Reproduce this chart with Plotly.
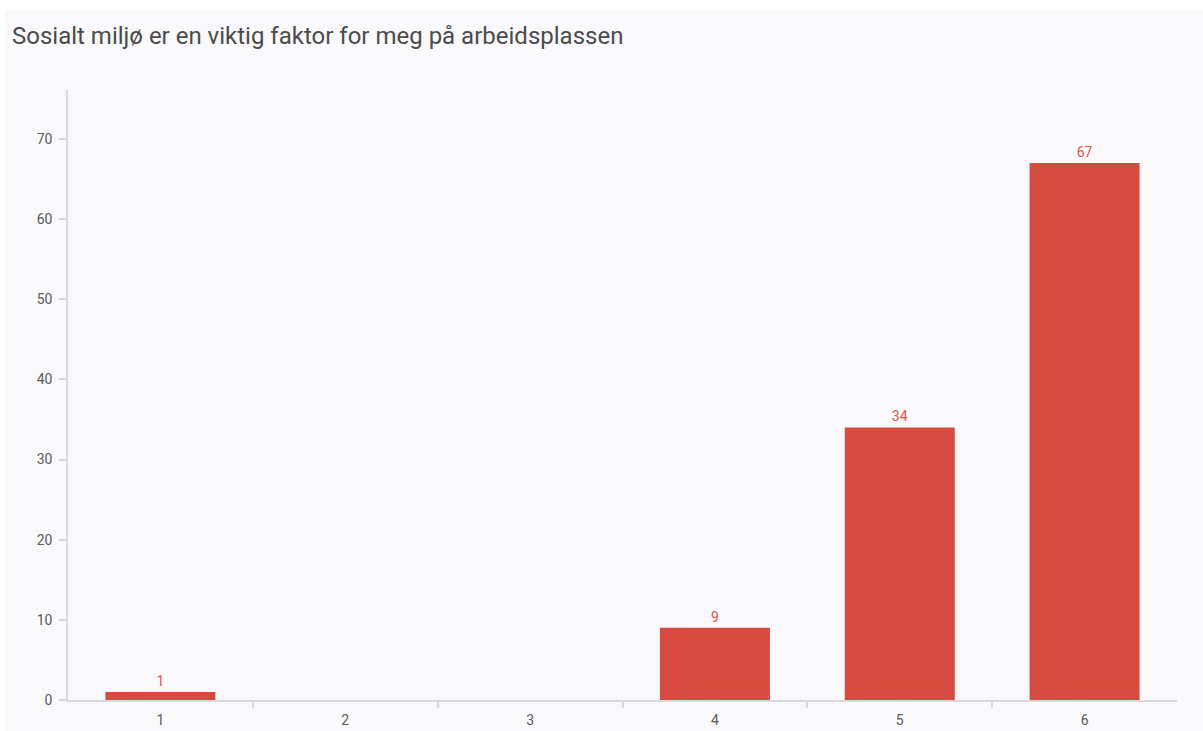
import plotly.graph_objects as go

# Survey answers on a 1–6 scale and how many respondents chose each
categories = ["1", "2", "3", "4", "5", "6"]
counts = [1, 0, 0, 9, 34, 67]
title_text = "Sosialt miljø er en viktig faktor for meg på arbeidsplassen"

W, H = 1203, 731
L, R, T, B = 68, 26, 90, 31
pw, ph = W - L - R, H - T - B

bar_color = "#d64a40"
label_color = "#e0534a"
axis_color = "#d9d9dd"
panel_color = "#f9f9fb"
tick_text_color = "#5a5a5a"

fig = go.Figure()
fig.add_trace(
    go.Bar(
        x=categories,
        y=counts,
        text=[str(c) if c > 0 else "" for c in counts],
        textposition="outside",
        textfont=dict(color=label_color, size=14, family="Roboto"),
        marker=dict(color=bar_color, line=dict(width=0)),
        cliponaxis=False,
        hoverinfo="x+y",
    )
)
# invisible helper trace so the boundary-tick axis gets drawn
fig.add_trace(
    go.Scatter(x=[0, 5], y=[0, 0], xaxis="x2", mode="markers",
               marker=dict(opacity=0), hoverinfo="skip", showlegend=False)
)

# light panel behind the whole chart
fig.add_shape(
    type="rect", xref="paper", yref="paper", layer="below",
    x0=(5 - L) / pw, x1=(W - L) / pw,
    y0=-B / ph, y1=1 + (T - 10) / ph,
    fillcolor=panel_color, line=dict(width=0),
)

fig.update_layout(
    width=W, height=H,
    margin=dict(l=L, r=R, t=T, b=B, autoexpand=False),
    paper_bgcolor="white",
    plot_bgcolor=panel_color,
    bargap=0.405,
    showlegend=False,
    font=dict(family="Roboto", color=tick_text_color, size=14),
    title=dict(
        text=title_text,
        x=12 / W, xanchor="left", xref="container",
        y=1 - 36 / H, yanchor="middle", yref="container",
        font=dict(size=24, color="#4b4b4b", family="Roboto"),
    ),
    xaxis=dict(
        type="category", automargin=False,
        showline=True, linecolor=axis_color, linewidth=1.5,
        ticks="", showgrid=False, zeroline=False,
        ticklabelstandoff=6,
        tickfont=dict(size=14, color=tick_text_color),
    ),
    xaxis2=dict(
        overlaying="x", anchor="y", side="bottom", automargin=False,
        range=[-0.5, 5.5],
        tickvals=[0.5, 1.5, 2.5, 3.5, 4.5],
        ticks="outside", ticklen=7, tickcolor=axis_color, tickwidth=1.5,
        showticklabels=False, showgrid=False, zeroline=False, showline=False,
    ),
    yaxis=dict(
        range=[0, 76.1], automargin=False,
        tickvals=[0, 10, 20, 30, 40, 50, 60, 70],
        showline=True, linecolor=axis_color, linewidth=1.5,
        ticks="outside", ticklen=7, tickcolor=axis_color, tickwidth=1.5,
        showgrid=False, zeroline=False,
        ticklabelstandoff=4,
        tickfont=dict(size=14, color=tick_text_color),
    ),
)

fig.write_html("out.html")
